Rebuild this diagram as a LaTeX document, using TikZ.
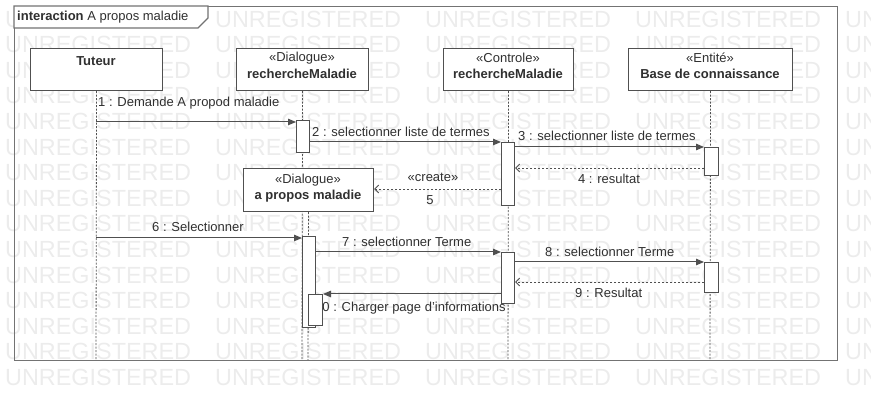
\documentclass[tikz,border=0pt]{standalone}
\usepackage{fontspec}
\setmainfont{Liberation Sans}
\usetikzlibrary{arrows.meta}
\definecolor{ln}{HTML}{505050}
\definecolor{wm}{HTML}{ECECEC}
\definecolor{tx}{HTML}{303030}
\begin{document}
\begin{tikzpicture}[x=1pt,y=-1pt,
  lbl/.style={font=\fontsize{13}{15}\selectfont, text=tx, inner sep=0pt},
  namelbl/.style={lbl, font=\fontsize{13}{15}\selectfont\bfseries},
  wmark/.style={font=\fontsize{23.4}{26}\selectfont, text=wm, inner sep=0pt, anchor=west},
  objbox/.style={draw=ln, line width=1.1pt, fill=white, inner sep=0pt, anchor=north west},
  actbar/.style={draw=ln, line width=1pt, fill=white, inner sep=0pt, anchor=north west, minimum width=13pt},
  lifeline/.style={draw=ln, line width=0.8pt, dash pattern=on 2pt off 1.5pt},
  callmsg/.style={draw=ln, line width=1pt, -{Triangle[length=8pt,width=6.5pt]}},
  retmsg/.style={draw=ln, line width=0.9pt, dash pattern=on 2pt off 2pt, -{Straight Barb[length=4pt,width=8pt]}}
]
\useasboundingbox (0,0) rectangle (871,403);
% watermark
\begin{scope}
\clip (0,0) rectangle (871,403);
\foreach \k in {0,...,14}{
  \foreach \j in {0,...,4}{
    \node[wmark] (wm-\k-\j) at (5+210*\j, 19+25.6*\k) {UNREGISTERED};
  }
}
\end{scope}
% frame
\node[draw=ln!80, line width=1.3pt, inner sep=0pt, anchor=north west, minimum width=823pt, minimum height=354pt] (frame) at (14,6) {};
\draw[draw=ln!80, line width=1.1pt, fill=white] (14,6) -- (208,6) -- (208,18) -- (198,28) -- (14,28) -- cycle;
\node[lbl, anchor=west] (ftitle) at (17,17) {\textbf{interaction} A propos maladie};
% lifelines
\coordinate (tutE) at (96,360);
\coordinate (dlgE) at (302,360);
\coordinate (ctlE) at (508,360);
\coordinate (entE) at (710,360);
\coordinate (apmE) at (308,360);
% object boxes
\node[objbox, minimum width=132pt, minimum height=42pt] (tut) at (30,48) {};
\node[objbox, minimum width=132pt, minimum height=42pt] (dlg) at (236,48) {};
\node[objbox, minimum width=130pt, minimum height=42pt] (ctl) at (443,48) {};
\node[objbox, minimum width=164pt, minimum height=42pt] (ent) at (628,48) {};
\draw[lifeline] (tut.south) -- (tutE);
\draw[lifeline] (dlg.south) -- (dlgE);
\draw[lifeline] (ctl.south) -- (ctlE);
\draw[lifeline] (ent.south) -- (entE);
\node[namelbl] (tutN) at (96,61) {Tuteur};
\node[lbl] (dlgS) at (302,58) {«Dialogue»};
\node[namelbl] (dlgN) at (302,74) {rechercheMaladie};
\node[lbl] (ctlS) at (508,58) {«Controle»};
\node[namelbl] (ctlN) at (508,74) {rechercheMaladie};
\node[lbl] (entS) at (710,58) {«Entité»};
\node[namelbl] (entN) at (710,74) {Base de connaissance};
% created object
\node[objbox, minimum width=130pt, minimum height=43pt] (apm) at (243,168) {};
\draw[lifeline] (apm.south) -- (apmE);
\node[lbl] (apmS) at (308,180) {«Dialogue»};
\node[namelbl] (apmN) at (308,196) {a propos maladie};
% message labels (drawn before bars)
\node[lbl, anchor=west] (l1) at (98,103) {1 : Demande A propod maladie};
\node[lbl, anchor=west] (l2) at (312,132) {2 : selectionner liste de termes};
\node[lbl, anchor=west] (l3) at (518,136) {3 : selectionner liste de termes};
\node[lbl] (l4) at (609,179) {4 : resultat};
\node[lbl] (l5a) at (433,177) {«create»};
\node[lbl] (l5b) at (430,200) {5};
\node[lbl, anchor=west] (l6) at (152,227) {6 : Selectionner};
\node[lbl, anchor=west] (l7) at (342,242) {7 : selectionner Terme};
\node[lbl, anchor=west] (l8) at (545,252) {8 : selectionner Terme};
\node[lbl, anchor=west] (l9) at (575,293) {9 : Resultat};
\node[lbl, anchor=west] (l10) at (315,308) {10 : Charger page d'informations};
% activation bars
\node[actbar, minimum height=32pt] (d1) at (296,120) {};
\node[actbar, minimum height=63pt] (c1) at (501,142) {};
\node[actbar, minimum height=28pt, minimum width=14pt] (e1) at (704,147) {};
\node[actbar, minimum height=91pt] (p1) at (302,236) {};
\node[actbar, minimum height=31pt, minimum width=14pt] (p2) at (308,294) {};
\node[actbar, minimum height=51pt] (c2) at (501,252) {};
\node[actbar, minimum height=30pt, minimum width=14pt] (e2) at (704,262) {};
% messages
\coordinate (m1s) at (96,122);
\draw[callmsg] (m1s) -- (d1.west |- m1s);
\coordinate (m2s) at (309,142);
\draw[callmsg] (d1.east |- m2s) -- (c1.north west);
\coordinate (m3s) at (514,147);
\draw[callmsg] (c1.east |- m3s) -- (e1.north west);
\coordinate (m4s) at (704,168);
\draw[retmsg] (e1.west |- m4s) -- (c1.east |- m4s);
\coordinate (m5s) at (501,189);
\draw[retmsg] (c1.west |- m5s) -- (apm.east |- m5s);
\coordinate (m6s) at (96,238);
\draw[callmsg] (m6s) -- (p1.west |- m6s);
\draw[callmsg] (p1.east |- c2.north) -- (c2.north west);
\draw[callmsg] (c2.east |- e2.north) -- (e2.north west);
\coordinate (m9s) at (704,282);
\draw[retmsg] (e2.west |- m9s) -- (c2.east |- m9s);
\coordinate (m10s) at (501,294);
\draw[callmsg] (c2.west |- m10s) -- (p2.north east);
\end{tikzpicture}
\end{document}
